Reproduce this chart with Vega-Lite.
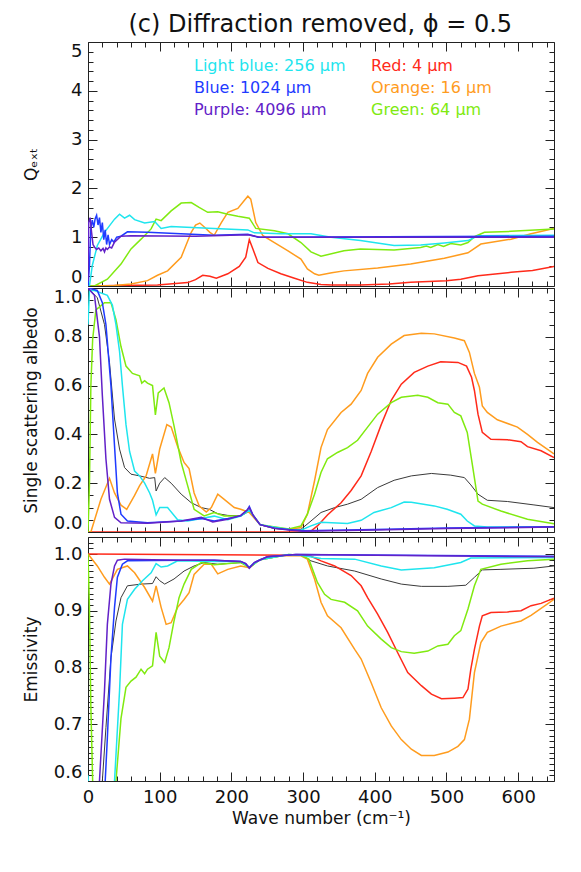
{
 "$schema": "https://vega.github.io/schema/vega-lite/v6.json",
 "background": "white",
 "padding": {"left": 22, "top": 12, "right": 20, "bottom": 10},
 "title": {"text": "(c) Diffraction removed, ϕ = 0.5", "fontSize": 24, "font": "DejaVu Sans", "fontWeight": "normal", "color": "#111111", "anchor": "middle", "offset": 5, "dx": 32},
 "config": {
  "view": {"stroke": null},
  "axis": {"domainColor": "#222222", "tickColor": "#222222", "domainWidth": 1, "tickWidth": 1, "labelFont": "DejaVu Sans", "labelFontSize": 18, "labelColor": "#111111", "titleFont": "DejaVu Sans", "titleFontSize": 17, "titleFontWeight": "normal", "titleColor": "#111111", "grid": false, "labelOverlap": false}
 },
 "datasets": {
  "q": [
   {"s":"Red: 4 μm","x":0,"y":0},{"s":"Red: 4 μm","x":40,"y":0.01},{"s":"Red: 4 μm","x":97,"y":0.02},{"s":"Red: 4 μm","x":139,"y":0.07},{"s":"Red: 4 μm","x":150,"y":0.13},{"s":"Red: 4 μm","x":160,"y":0.22},{"s":"Red: 4 μm","x":170,"y":0.2},{"s":"Red: 4 μm","x":179,"y":0.16},{"s":"Red: 4 μm","x":195,"y":0.25},{"s":"Red: 4 μm","x":211,"y":0.4},{"s":"Red: 4 μm","x":220,"y":0.59},{"s":"Red: 4 μm","x":225,"y":0.95},{"s":"Red: 4 μm","x":230,"y":0.76},{"s":"Red: 4 μm","x":237,"y":0.48},{"s":"Red: 4 μm","x":251,"y":0.36},{"s":"Red: 4 μm","x":269,"y":0.25},{"s":"Red: 4 μm","x":288,"y":0.16},{"s":"Red: 4 μm","x":306,"y":0.075},{"s":"Red: 4 μm","x":325,"y":0.03},{"s":"Red: 4 μm","x":340,"y":0.02},{"s":"Red: 4 μm","x":380,"y":0.02},{"s":"Red: 4 μm","x":420,"y":0.04},{"s":"Red: 4 μm","x":450,"y":0.075},{"s":"Red: 4 μm","x":500,"y":0.11},{"s":"Red: 4 μm","x":520,"y":0.14},{"s":"Red: 4 μm","x":544,"y":0.21},{"s":"Red: 4 μm","x":590,"y":0.28},{"s":"Red: 4 μm","x":620,"y":0.32},{"s":"Red: 4 μm","x":650,"y":0.4},
   {"s":"Orange: 16 μm","x":0,"y":0},{"s":"Orange: 16 μm","x":37,"y":0.01},{"s":"Orange: 16 μm","x":60,"y":0.04},{"s":"Orange: 16 μm","x":83,"y":0.11},{"s":"Orange: 16 μm","x":97,"y":0.22},{"s":"Orange: 16 μm","x":111,"y":0.31},{"s":"Orange: 16 μm","x":130,"y":0.59},{"s":"Orange: 16 μm","x":144,"y":1.1},{"s":"Orange: 16 μm","x":150,"y":1.25},{"s":"Orange: 16 μm","x":156,"y":1.29},{"s":"Orange: 16 μm","x":163,"y":1.2},{"s":"Orange: 16 μm","x":170,"y":1.1},{"s":"Orange: 16 μm","x":176,"y":1.04},{"s":"Orange: 16 μm","x":186,"y":1.3},{"s":"Orange: 16 μm","x":195,"y":1.51},{"s":"Orange: 16 μm","x":209,"y":1.59},{"s":"Orange: 16 μm","x":218,"y":1.75},{"s":"Orange: 16 μm","x":223,"y":1.84},{"s":"Orange: 16 μm","x":227,"y":1.78},{"s":"Orange: 16 μm","x":234,"y":1.3},{"s":"Orange: 16 μm","x":244,"y":1.03},{"s":"Orange: 16 μm","x":260,"y":0.89},{"s":"Orange: 16 μm","x":279,"y":0.72},{"s":"Orange: 16 μm","x":297,"y":0.55},{"s":"Orange: 16 μm","x":306,"y":0.35},{"s":"Orange: 16 μm","x":316,"y":0.25},{"s":"Orange: 16 μm","x":322,"y":0.22},{"s":"Orange: 16 μm","x":340,"y":0.27},{"s":"Orange: 16 μm","x":357,"y":0.31},{"s":"Orange: 16 μm","x":404,"y":0.37},{"s":"Orange: 16 μm","x":450,"y":0.45},{"s":"Orange: 16 μm","x":497,"y":0.57},{"s":"Orange: 16 μm","x":530,"y":0.68},{"s":"Orange: 16 μm","x":548,"y":0.86},{"s":"Orange: 16 μm","x":590,"y":0.96},{"s":"Orange: 16 μm","x":618,"y":1.07},{"s":"Orange: 16 μm","x":650,"y":1.18},
   {"s":"Green: 64 μm","x":0,"y":0},{"s":"Green: 64 μm","x":9,"y":0.0},{"s":"Green: 64 μm","x":27,"y":0.14},{"s":"Green: 64 μm","x":46,"y":0.45},{"s":"Green: 64 μm","x":60,"y":0.76},{"s":"Green: 64 μm","x":74,"y":0.96},{"s":"Green: 64 μm","x":88,"y":1.17},{"s":"Green: 64 μm","x":95,"y":1.37},{"s":"Green: 64 μm","x":102,"y":1.34},{"s":"Green: 64 μm","x":116,"y":1.54},{"s":"Green: 64 μm","x":130,"y":1.7},{"s":"Green: 64 μm","x":144,"y":1.71},{"s":"Green: 64 μm","x":155,"y":1.61},{"s":"Green: 64 μm","x":167,"y":1.51},{"s":"Green: 64 μm","x":181,"y":1.52},{"s":"Green: 64 μm","x":195,"y":1.47},{"s":"Green: 64 μm","x":209,"y":1.43},{"s":"Green: 64 μm","x":225,"y":1.39},{"s":"Green: 64 μm","x":234,"y":1.18},{"s":"Green: 64 μm","x":260,"y":1.13},{"s":"Green: 64 μm","x":279,"y":1.07},{"s":"Green: 64 μm","x":297,"y":0.89},{"s":"Green: 64 μm","x":311,"y":0.7},{"s":"Green: 64 μm","x":325,"y":0.61},{"s":"Green: 64 μm","x":357,"y":0.72},{"s":"Green: 64 μm","x":380,"y":0.76},{"s":"Green: 64 μm","x":427,"y":0.74},{"s":"Green: 64 μm","x":464,"y":0.79},{"s":"Green: 64 μm","x":472,"y":0.82},{"s":"Green: 64 μm","x":478,"y":0.79},{"s":"Green: 64 μm","x":488,"y":0.85},{"s":"Green: 64 μm","x":496,"y":0.81},{"s":"Green: 64 μm","x":506,"y":0.87},{"s":"Green: 64 μm","x":520,"y":0.84},{"s":"Green: 64 μm","x":530,"y":0.89},{"s":"Green: 64 μm","x":539,"y":1.01},{"s":"Green: 64 μm","x":553,"y":1.1},{"s":"Green: 64 μm","x":590,"y":1.12},{"s":"Green: 64 μm","x":650,"y":1.17},
   {"s":"Light blue: 256 μm","x":0,"y":0},{"s":"Light blue: 256 μm","x":2,"y":0.0},{"s":"Light blue: 256 μm","x":6,"y":0.42},{"s":"Light blue: 256 μm","x":13,"y":0.83},{"s":"Light blue: 256 μm","x":23,"y":1.1},{"s":"Light blue: 256 μm","x":37,"y":1.37},{"s":"Light blue: 256 μm","x":44,"y":1.47},{"s":"Light blue: 256 μm","x":51,"y":1.39},{"s":"Light blue: 256 μm","x":58,"y":1.45},{"s":"Light blue: 256 μm","x":65,"y":1.36},{"s":"Light blue: 256 μm","x":79,"y":1.29},{"s":"Light blue: 256 μm","x":93,"y":1.32},{"s":"Light blue: 256 μm","x":102,"y":1.18},{"s":"Light blue: 256 μm","x":116,"y":1.22},{"s":"Light blue: 256 μm","x":130,"y":1.21},{"s":"Light blue: 256 μm","x":176,"y":1.18},{"s":"Light blue: 256 μm","x":223,"y":1.15},{"s":"Light blue: 256 μm","x":232,"y":1.09},{"s":"Light blue: 256 μm","x":269,"y":1.07},{"s":"Light blue: 256 μm","x":311,"y":1.07},{"s":"Light blue: 256 μm","x":339,"y":1.0},{"s":"Light blue: 256 μm","x":380,"y":0.93},{"s":"Light blue: 256 μm","x":427,"y":0.83},{"s":"Light blue: 256 μm","x":464,"y":0.84},{"s":"Light blue: 256 μm","x":497,"y":0.88},{"s":"Light blue: 256 μm","x":530,"y":0.93},{"s":"Light blue: 256 μm","x":544,"y":1.03},{"s":"Light blue: 256 μm","x":650,"y":1.04},
   {"s":"Blue: 1024 μm","x":0,"y":0},{"s":"Blue: 1024 μm","x":2,"y":0.4},{"s":"Blue: 1024 μm","x":4,"y":1.2},{"s":"Blue: 1024 μm","x":6,"y":1.35},{"s":"Blue: 1024 μm","x":8,"y":1.2},{"s":"Blue: 1024 μm","x":10,"y":1.38},{"s":"Blue: 1024 μm","x":12,"y":1.45},{"s":"Blue: 1024 μm","x":14,"y":1.25},{"s":"Blue: 1024 μm","x":16,"y":1.4},{"s":"Blue: 1024 μm","x":18,"y":1.1},{"s":"Blue: 1024 μm","x":20,"y":1.3},{"s":"Blue: 1024 μm","x":22,"y":0.95},{"s":"Blue: 1024 μm","x":24,"y":1.15},{"s":"Blue: 1024 μm","x":26,"y":0.85},{"s":"Blue: 1024 μm","x":28,"y":1.05},{"s":"Blue: 1024 μm","x":30,"y":0.85},{"s":"Blue: 1024 μm","x":33,"y":0.95},{"s":"Blue: 1024 μm","x":36,"y":0.9},{"s":"Blue: 1024 μm","x":40,"y":1.0},{"s":"Blue: 1024 μm","x":46,"y":1.02},{"s":"Blue: 1024 μm","x":55,"y":1.11},{"s":"Blue: 1024 μm","x":83,"y":1.1},{"s":"Blue: 1024 μm","x":176,"y":1.04},{"s":"Blue: 1024 μm","x":223,"y":1.06},{"s":"Blue: 1024 μm","x":237,"y":1.0},{"s":"Blue: 1024 μm","x":650,"y":1.02},
   {"s":"Purple: 4096 μm","x":0,"y":0.1},{"s":"Purple: 4096 μm","x":1,"y":1.3},{"s":"Purple: 4096 μm","x":3,"y":1.4},{"s":"Purple: 4096 μm","x":5,"y":1.1},{"s":"Purple: 4096 μm","x":7,"y":0.85},{"s":"Purple: 4096 μm","x":9,"y":0.8},{"s":"Purple: 4096 μm","x":12,"y":0.75},{"s":"Purple: 4096 μm","x":15,"y":0.78},{"s":"Purple: 4096 μm","x":18,"y":0.72},{"s":"Purple: 4096 μm","x":21,"y":0.77},{"s":"Purple: 4096 μm","x":23,"y":0.7},{"s":"Purple: 4096 μm","x":25,"y":0.78},{"s":"Purple: 4096 μm","x":27,"y":0.75},{"s":"Purple: 4096 μm","x":30,"y":0.8},{"s":"Purple: 4096 μm","x":33,"y":0.78},{"s":"Purple: 4096 μm","x":37,"y":0.9},{"s":"Purple: 4096 μm","x":46,"y":1.02},{"s":"Purple: 4096 μm","x":60,"y":1.03},{"s":"Purple: 4096 μm","x":150,"y":1.02},{"s":"Purple: 4096 μm","x":223,"y":1.05},{"s":"Purple: 4096 μm","x":240,"y":1.0},{"s":"Purple: 4096 μm","x":650,"y":1.0}
  ],
  "alb": [
   {"s":"Red: 4 μm","x":0,"y":0},{"s":"Red: 4 μm","x":300,"y":0},{"s":"Red: 4 μm","x":311,"y":0.004},{"s":"Red: 4 μm","x":320,"y":0.025},{"s":"Red: 4 μm","x":334,"y":0.07},{"s":"Red: 4 μm","x":353,"y":0.12},{"s":"Red: 4 μm","x":367,"y":0.17},{"s":"Red: 4 μm","x":381,"y":0.23},{"s":"Red: 4 μm","x":395,"y":0.33},{"s":"Red: 4 μm","x":409,"y":0.44},{"s":"Red: 4 μm","x":423,"y":0.54},{"s":"Red: 4 μm","x":437,"y":0.606},{"s":"Red: 4 μm","x":455,"y":0.654},{"s":"Red: 4 μm","x":474,"y":0.68},{"s":"Red: 4 μm","x":492,"y":0.698},{"s":"Red: 4 μm","x":516,"y":0.695},{"s":"Red: 4 μm","x":528,"y":0.68},{"s":"Red: 4 μm","x":535,"y":0.634},{"s":"Red: 4 μm","x":539,"y":0.58},{"s":"Red: 4 μm","x":544,"y":0.483},{"s":"Red: 4 μm","x":550,"y":0.408},{"s":"Red: 4 μm","x":562,"y":0.38},{"s":"Red: 4 μm","x":585,"y":0.378},{"s":"Red: 4 μm","x":604,"y":0.37},{"s":"Red: 4 μm","x":613,"y":0.35},{"s":"Red: 4 μm","x":632,"y":0.333},{"s":"Red: 4 μm","x":650,"y":0.305},
   {"s":"Orange: 16 μm","x":0,"y":0},{"s":"Orange: 16 μm","x":4,"y":0},{"s":"Orange: 16 μm","x":18,"y":0.134},{"s":"Orange: 16 μm","x":30,"y":0.22},{"s":"Orange: 16 μm","x":37,"y":0.16},{"s":"Orange: 16 μm","x":46,"y":0.11},{"s":"Orange: 16 μm","x":54,"y":0.093},{"s":"Orange: 16 μm","x":65,"y":0.15},{"s":"Orange: 16 μm","x":72,"y":0.19},{"s":"Orange: 16 μm","x":81,"y":0.23},{"s":"Orange: 16 μm","x":90,"y":0.32},{"s":"Orange: 16 μm","x":94,"y":0.24},{"s":"Orange: 16 μm","x":100,"y":0.34},{"s":"Orange: 16 μm","x":110,"y":0.44},{"s":"Orange: 16 μm","x":116,"y":0.43},{"s":"Orange: 16 μm","x":125,"y":0.35},{"s":"Orange: 16 μm","x":134,"y":0.285},{"s":"Orange: 16 μm","x":141,"y":0.26},{"s":"Orange: 16 μm","x":148,"y":0.16},{"s":"Orange: 16 μm","x":155,"y":0.107},{"s":"Orange: 16 μm","x":165,"y":0.082},{"s":"Orange: 16 μm","x":172,"y":0.1},{"s":"Orange: 16 μm","x":181,"y":0.155},{"s":"Orange: 16 μm","x":190,"y":0.134},{"s":"Orange: 16 μm","x":204,"y":0.1},{"s":"Orange: 16 μm","x":213,"y":0.093},{"s":"Orange: 16 μm","x":225,"y":0.08},{"s":"Orange: 16 μm","x":240,"y":0.03},{"s":"Orange: 16 μm","x":260,"y":0.015},{"s":"Orange: 16 μm","x":280,"y":0.01},{"s":"Orange: 16 μm","x":297,"y":0.018},{"s":"Orange: 16 μm","x":306,"y":0.073},{"s":"Orange: 16 μm","x":316,"y":0.21},{"s":"Orange: 16 μm","x":325,"y":0.346},{"s":"Orange: 16 μm","x":334,"y":0.42},{"s":"Orange: 16 μm","x":353,"y":0.49},{"s":"Orange: 16 μm","x":367,"y":0.524},{"s":"Orange: 16 μm","x":381,"y":0.58},{"s":"Orange: 16 μm","x":390,"y":0.65},{"s":"Orange: 16 μm","x":404,"y":0.716},{"s":"Orange: 16 μm","x":423,"y":0.77},{"s":"Orange: 16 μm","x":441,"y":0.805},{"s":"Orange: 16 μm","x":465,"y":0.815},{"s":"Orange: 16 μm","x":483,"y":0.812},{"s":"Orange: 16 μm","x":511,"y":0.795},{"s":"Orange: 16 μm","x":525,"y":0.784},{"s":"Orange: 16 μm","x":532,"y":0.736},{"s":"Orange: 16 μm","x":539,"y":0.65},{"s":"Orange: 16 μm","x":546,"y":0.593},{"s":"Orange: 16 μm","x":550,"y":0.517},{"s":"Orange: 16 μm","x":557,"y":0.49},{"s":"Orange: 16 μm","x":571,"y":0.46},{"s":"Orange: 16 μm","x":599,"y":0.43},{"s":"Orange: 16 μm","x":613,"y":0.4},{"s":"Orange: 16 μm","x":627,"y":0.367},{"s":"Orange: 16 μm","x":650,"y":0.32},
   {"s":"Green: 64 μm","x":0,"y":0},{"s":"Green: 64 μm","x":2,"y":0.19},{"s":"Green: 64 μm","x":4,"y":0.6},{"s":"Green: 64 μm","x":6.5,"y":0.79},{"s":"Green: 64 μm","x":11,"y":0.91},{"s":"Green: 64 μm","x":23,"y":0.94},{"s":"Green: 64 μm","x":32,"y":0.94},{"s":"Green: 64 μm","x":39,"y":0.87},{"s":"Green: 64 μm","x":46,"y":0.76},{"s":"Green: 64 μm","x":53,"y":0.68},{"s":"Green: 64 μm","x":62,"y":0.65},{"s":"Green: 64 μm","x":72,"y":0.64},{"s":"Green: 64 μm","x":75,"y":0.61},{"s":"Green: 64 μm","x":79,"y":0.62},{"s":"Green: 64 μm","x":83,"y":0.61},{"s":"Green: 64 μm","x":90,"y":0.6},{"s":"Green: 64 μm","x":94,"y":0.48},{"s":"Green: 64 μm","x":98,"y":0.57},{"s":"Green: 64 μm","x":106,"y":0.59},{"s":"Green: 64 μm","x":113,"y":0.53},{"s":"Green: 64 μm","x":120,"y":0.435},{"s":"Green: 64 μm","x":130,"y":0.285},{"s":"Green: 64 μm","x":139,"y":0.19},{"s":"Green: 64 μm","x":148,"y":0.093},{"s":"Green: 64 μm","x":162,"y":0.066},{"s":"Green: 64 μm","x":176,"y":0.08},{"s":"Green: 64 μm","x":190,"y":0.066},{"s":"Green: 64 μm","x":213,"y":0.066},{"s":"Green: 64 μm","x":225,"y":0.09},{"s":"Green: 64 μm","x":240,"y":0.03},{"s":"Green: 64 μm","x":280,"y":0.012},{"s":"Green: 64 μm","x":297,"y":0.025},{"s":"Green: 64 μm","x":306,"y":0.073},{"s":"Green: 64 μm","x":316,"y":0.155},{"s":"Green: 64 μm","x":325,"y":0.244},{"s":"Green: 64 μm","x":334,"y":0.3},{"s":"Green: 64 μm","x":348,"y":0.326},{"s":"Green: 64 μm","x":362,"y":0.346},{"s":"Green: 64 μm","x":376,"y":0.376},{"s":"Green: 64 μm","x":390,"y":0.43},{"s":"Green: 64 μm","x":404,"y":0.483},{"s":"Green: 64 μm","x":423,"y":0.53},{"s":"Green: 64 μm","x":437,"y":0.552},{"s":"Green: 64 μm","x":460,"y":0.56},{"s":"Green: 64 μm","x":474,"y":0.552},{"s":"Green: 64 μm","x":488,"y":0.53},{"s":"Green: 64 μm","x":502,"y":0.524},{"s":"Green: 64 μm","x":511,"y":0.49},{"s":"Green: 64 μm","x":520,"y":0.476},{"s":"Green: 64 μm","x":529,"y":0.408},{"s":"Green: 64 μm","x":536,"y":0.278},{"s":"Green: 64 μm","x":544,"y":0.127},{"s":"Green: 64 μm","x":550,"y":0.114},{"s":"Green: 64 μm","x":576,"y":0.086},{"s":"Green: 64 μm","x":613,"y":0.052},{"s":"Green: 64 μm","x":650,"y":0.034},
   {"s":"Light blue: 256 μm","x":0,"y":0.85},{"s":"Light blue: 256 μm","x":2,"y":0.99},{"s":"Light blue: 256 μm","x":9,"y":0.99},{"s":"Light blue: 256 μm","x":27,"y":0.97},{"s":"Light blue: 256 μm","x":34,"y":0.93},{"s":"Light blue: 256 μm","x":39,"y":0.85},{"s":"Light blue: 256 μm","x":44,"y":0.74},{"s":"Light blue: 256 μm","x":48,"y":0.6},{"s":"Light blue: 256 μm","x":53,"y":0.44},{"s":"Light blue: 256 μm","x":58,"y":0.33},{"s":"Light blue: 256 μm","x":65,"y":0.25},{"s":"Light blue: 256 μm","x":72,"y":0.23},{"s":"Light blue: 256 μm","x":79,"y":0.2},{"s":"Light blue: 256 μm","x":86,"y":0.16},{"s":"Light blue: 256 μm","x":90,"y":0.13},{"s":"Light blue: 256 μm","x":95,"y":0.07},{"s":"Light blue: 256 μm","x":100,"y":0.1},{"s":"Light blue: 256 μm","x":111,"y":0.1},{"s":"Light blue: 256 μm","x":125,"y":0.05},{"s":"Light blue: 256 μm","x":139,"y":0.045},{"s":"Light blue: 256 μm","x":176,"y":0.065},{"s":"Light blue: 256 μm","x":195,"y":0.05},{"s":"Light blue: 256 μm","x":213,"y":0.065},{"s":"Light blue: 256 μm","x":225,"y":0.09},{"s":"Light blue: 256 μm","x":240,"y":0.03},{"s":"Light blue: 256 μm","x":260,"y":0.02},{"s":"Light blue: 256 μm","x":280,"y":0.01},{"s":"Light blue: 256 μm","x":297,"y":0.007},{"s":"Light blue: 256 μm","x":311,"y":0.025},{"s":"Light blue: 256 μm","x":325,"y":0.04},{"s":"Light blue: 256 μm","x":362,"y":0.035},{"s":"Light blue: 256 μm","x":381,"y":0.048},{"s":"Light blue: 256 μm","x":399,"y":0.08},{"s":"Light blue: 256 μm","x":423,"y":0.1},{"s":"Light blue: 256 μm","x":441,"y":0.123},{"s":"Light blue: 256 μm","x":451,"y":0.122},{"s":"Light blue: 256 μm","x":483,"y":0.107},{"s":"Light blue: 256 μm","x":501,"y":0.093},{"s":"Light blue: 256 μm","x":520,"y":0.073},{"s":"Light blue: 256 μm","x":529,"y":0.045},{"s":"Light blue: 256 μm","x":539,"y":0.025},{"s":"Light blue: 256 μm","x":557,"y":0.02},{"s":"Light blue: 256 μm","x":650,"y":0.02},
   {"s":"Blue: 1024 μm","x":0,"y":1.0},{"s":"Blue: 1024 μm","x":13,"y":0.99},{"s":"Blue: 1024 μm","x":20,"y":0.94},{"s":"Blue: 1024 μm","x":25,"y":0.85},{"s":"Blue: 1024 μm","x":32,"y":0.6},{"s":"Blue: 1024 μm","x":37,"y":0.353},{"s":"Blue: 1024 μm","x":41,"y":0.16},{"s":"Blue: 1024 μm","x":46,"y":0.073},{"s":"Blue: 1024 μm","x":55,"y":0.045},{"s":"Blue: 1024 μm","x":83,"y":0.038},{"s":"Blue: 1024 μm","x":130,"y":0.045},{"s":"Blue: 1024 μm","x":158,"y":0.055},{"s":"Blue: 1024 μm","x":176,"y":0.045},{"s":"Blue: 1024 μm","x":195,"y":0.055},{"s":"Blue: 1024 μm","x":213,"y":0.066},{"s":"Blue: 1024 μm","x":222,"y":0.09},{"s":"Blue: 1024 μm","x":225,"y":0.105},{"s":"Blue: 1024 μm","x":230,"y":0.07},{"s":"Blue: 1024 μm","x":240,"y":0.03},{"s":"Blue: 1024 μm","x":260,"y":0.015},{"s":"Blue: 1024 μm","x":280,"y":0.01},{"s":"Blue: 1024 μm","x":300,"y":0.005},{"s":"Blue: 1024 μm","x":400,"y":0.01},{"s":"Blue: 1024 μm","x":500,"y":0.016},{"s":"Blue: 1024 μm","x":650,"y":0.022},
   {"s":"Purple: 4096 μm","x":0,"y":1.0},{"s":"Purple: 4096 μm","x":9,"y":0.97},{"s":"Purple: 4096 μm","x":16,"y":0.8},{"s":"Purple: 4096 μm","x":20,"y":0.56},{"s":"Purple: 4096 μm","x":25,"y":0.3},{"s":"Purple: 4096 μm","x":30,"y":0.134},{"s":"Purple: 4096 μm","x":37,"y":0.06},{"s":"Purple: 4096 μm","x":46,"y":0.038},{"s":"Purple: 4096 μm","x":83,"y":0.036},{"s":"Purple: 4096 μm","x":130,"y":0.045},{"s":"Purple: 4096 μm","x":158,"y":0.06},{"s":"Purple: 4096 μm","x":174,"y":0.041},{"s":"Purple: 4096 μm","x":195,"y":0.052},{"s":"Purple: 4096 μm","x":213,"y":0.068},{"s":"Purple: 4096 μm","x":222,"y":0.09},{"s":"Purple: 4096 μm","x":225,"y":0.1},{"s":"Purple: 4096 μm","x":230,"y":0.07},{"s":"Purple: 4096 μm","x":240,"y":0.03},{"s":"Purple: 4096 μm","x":260,"y":0.015},{"s":"Purple: 4096 μm","x":280,"y":0.008},{"s":"Purple: 4096 μm","x":300,"y":0.003},{"s":"Purple: 4096 μm","x":400,"y":0.008},{"s":"Purple: 4096 μm","x":500,"y":0.014},{"s":"Purple: 4096 μm","x":650,"y":0.02}
  ],
  "albGray": [
   {"x":0,"y":1.0},{"x":13,"y":0.96},{"x":23,"y":0.85},{"x":30,"y":0.695},{"x":37,"y":0.463},{"x":44,"y":0.34},{"x":51,"y":0.264},{"x":60,"y":0.237},{"x":72,"y":0.23},{"x":86,"y":0.22},{"x":93,"y":0.223},{"x":95,"y":0.168},{"x":100,"y":0.2},{"x":107,"y":0.223},{"x":116,"y":0.2},{"x":130,"y":0.155},{"x":144,"y":0.12},{"x":158,"y":0.1},{"x":169,"y":0.093},{"x":181,"y":0.075},{"x":195,"y":0.068},{"x":213,"y":0.066},{"x":225,"y":0.085},{"x":240,"y":0.03},{"x":260,"y":0.015},{"x":280,"y":0.01},{"x":297,"y":0.011},{"x":311,"y":0.045},{"x":325,"y":0.08},{"x":344,"y":0.1},{"x":362,"y":0.114},{"x":381,"y":0.134},{"x":404,"y":0.182},{"x":427,"y":0.212},{"x":451,"y":0.23},{"x":479,"y":0.24},{"x":506,"y":0.233},{"x":525,"y":0.223},{"x":534,"y":0.193},{"x":544,"y":0.155},{"x":557,"y":0.13},{"x":585,"y":0.125},{"x":622,"y":0.111},{"x":650,"y":0.1}
  ],
  "emi": [
   {"s":"Red: 4 μm","x":0,"y":1.0},{"s":"Red: 4 μm","x":297,"y":0.998},{"s":"Red: 4 μm","x":311,"y":0.996},{"s":"Red: 4 μm","x":325,"y":0.988},{"s":"Red: 4 μm","x":344,"y":0.979},{"s":"Red: 4 μm","x":367,"y":0.962},{"s":"Red: 4 μm","x":381,"y":0.944},{"s":"Red: 4 μm","x":390,"y":0.923},{"s":"Red: 4 μm","x":404,"y":0.894},{"s":"Red: 4 μm","x":418,"y":0.862},{"s":"Red: 4 μm","x":432,"y":0.826},{"s":"Red: 4 μm","x":446,"y":0.791},{"s":"Red: 4 μm","x":465,"y":0.768},{"s":"Red: 4 μm","x":479,"y":0.753},{"s":"Red: 4 μm","x":493,"y":0.745},{"s":"Red: 4 μm","x":511,"y":0.746},{"s":"Red: 4 μm","x":523,"y":0.747},{"s":"Red: 4 μm","x":530,"y":0.762},{"s":"Red: 4 μm","x":534,"y":0.797},{"s":"Red: 4 μm","x":539,"y":0.832},{"s":"Red: 4 μm","x":546,"y":0.873},{"s":"Red: 4 μm","x":550,"y":0.891},{"s":"Red: 4 μm","x":562,"y":0.897},{"s":"Red: 4 μm","x":585,"y":0.898},{"s":"Red: 4 μm","x":604,"y":0.9},{"s":"Red: 4 μm","x":618,"y":0.909},{"s":"Red: 4 μm","x":632,"y":0.913},{"s":"Red: 4 μm","x":650,"y":0.922},
   {"s":"Orange: 16 μm","x":0,"y":1.0},{"s":"Orange: 16 μm","x":13,"y":0.979},{"s":"Orange: 16 μm","x":23,"y":0.959},{"s":"Orange: 16 μm","x":30,"y":0.947},{"s":"Orange: 16 μm","x":41,"y":0.973},{"s":"Orange: 16 μm","x":55,"y":0.979},{"s":"Orange: 16 μm","x":65,"y":0.967},{"s":"Orange: 16 μm","x":79,"y":0.941},{"s":"Orange: 16 μm","x":90,"y":0.917},{"s":"Orange: 16 μm","x":95,"y":0.944},{"s":"Orange: 16 μm","x":102,"y":0.906},{"s":"Orange: 16 μm","x":109,"y":0.876},{"s":"Orange: 16 μm","x":116,"y":0.879},{"s":"Orange: 16 μm","x":125,"y":0.906},{"s":"Orange: 16 μm","x":134,"y":0.92},{"s":"Orange: 16 μm","x":141,"y":0.932},{"s":"Orange: 16 μm","x":148,"y":0.964},{"s":"Orange: 16 μm","x":162,"y":0.982},{"s":"Orange: 16 μm","x":172,"y":0.982},{"s":"Orange: 16 μm","x":181,"y":0.965},{"s":"Orange: 16 μm","x":195,"y":0.973},{"s":"Orange: 16 μm","x":213,"y":0.979},{"s":"Orange: 16 μm","x":225,"y":0.976},{"s":"Orange: 16 μm","x":240,"y":0.99},{"s":"Orange: 16 μm","x":270,"y":0.997},{"s":"Orange: 16 μm","x":297,"y":0.997},{"s":"Orange: 16 μm","x":306,"y":0.991},{"s":"Orange: 16 μm","x":316,"y":0.956},{"s":"Orange: 16 μm","x":325,"y":0.915},{"s":"Orange: 16 μm","x":334,"y":0.891},{"s":"Orange: 16 μm","x":353,"y":0.87},{"s":"Orange: 16 μm","x":372,"y":0.832},{"s":"Orange: 16 μm","x":381,"y":0.815},{"s":"Orange: 16 μm","x":395,"y":0.773},{"s":"Orange: 16 μm","x":409,"y":0.729},{"s":"Orange: 16 μm","x":423,"y":0.697},{"s":"Orange: 16 μm","x":437,"y":0.673},{"s":"Orange: 16 μm","x":451,"y":0.656},{"s":"Orange: 16 μm","x":465,"y":0.645},{"s":"Orange: 16 μm","x":483,"y":0.645},{"s":"Orange: 16 μm","x":502,"y":0.651},{"s":"Orange: 16 μm","x":516,"y":0.661},{"s":"Orange: 16 μm","x":525,"y":0.673},{"s":"Orange: 16 μm","x":532,"y":0.709},{"s":"Orange: 16 μm","x":539,"y":0.791},{"s":"Orange: 16 μm","x":548,"y":0.844},{"s":"Orange: 16 μm","x":557,"y":0.862},{"s":"Orange: 16 μm","x":576,"y":0.873},{"s":"Orange: 16 μm","x":604,"y":0.882},{"s":"Orange: 16 μm","x":618,"y":0.892},{"s":"Orange: 16 μm","x":650,"y":0.92},
   {"s":"Green: 64 μm","x":0,"y":1.0},{"s":"Green: 64 μm","x":2,"y":0.906},{"s":"Green: 64 μm","x":4,"y":0.73},{"s":"Green: 64 μm","x":6.5,"y":0.6},{"s":"Green: 64 μm","x":10,"y":0.35},{"s":"Green: 64 μm","x":35,"y":0.35},{"s":"Green: 64 μm","x":39,"y":0.6},{"s":"Green: 64 μm","x":46,"y":0.71},{"s":"Green: 64 μm","x":53,"y":0.765},{"s":"Green: 64 μm","x":60,"y":0.776},{"s":"Green: 64 μm","x":67,"y":0.783},{"s":"Green: 64 μm","x":74,"y":0.797},{"s":"Green: 64 μm","x":79,"y":0.789},{"s":"Green: 64 μm","x":83,"y":0.797},{"s":"Green: 64 μm","x":90,"y":0.803},{"s":"Green: 64 μm","x":95,"y":0.862},{"s":"Green: 64 μm","x":100,"y":0.82},{"s":"Green: 64 μm","x":107,"y":0.809},{"s":"Green: 64 μm","x":113,"y":0.835},{"s":"Green: 64 μm","x":120,"y":0.882},{"s":"Green: 64 μm","x":127,"y":0.923},{"s":"Green: 64 μm","x":134,"y":0.947},{"s":"Green: 64 μm","x":144,"y":0.973},{"s":"Green: 64 μm","x":158,"y":0.985},{"s":"Green: 64 μm","x":176,"y":0.981},{"s":"Green: 64 μm","x":213,"y":0.985},{"s":"Green: 64 μm","x":225,"y":0.976},{"s":"Green: 64 μm","x":240,"y":0.99},{"s":"Green: 64 μm","x":280,"y":0.999},{"s":"Green: 64 μm","x":297,"y":0.998},{"s":"Green: 64 μm","x":308,"y":0.991},{"s":"Green: 64 μm","x":320,"y":0.95},{"s":"Green: 64 μm","x":330,"y":0.929},{"s":"Green: 64 μm","x":339,"y":0.92},{"s":"Green: 64 μm","x":358,"y":0.915},{"s":"Green: 64 μm","x":376,"y":0.9},{"s":"Green: 64 μm","x":390,"y":0.873},{"s":"Green: 64 μm","x":409,"y":0.85},{"s":"Green: 64 μm","x":423,"y":0.835},{"s":"Green: 64 μm","x":437,"y":0.828},{"s":"Green: 64 μm","x":455,"y":0.825},{"s":"Green: 64 μm","x":474,"y":0.829},{"s":"Green: 64 μm","x":488,"y":0.838},{"s":"Green: 64 μm","x":502,"y":0.841},{"s":"Green: 64 μm","x":511,"y":0.856},{"s":"Green: 64 μm","x":520,"y":0.865},{"s":"Green: 64 μm","x":530,"y":0.903},{"s":"Green: 64 μm","x":539,"y":0.944},{"s":"Green: 64 μm","x":548,"y":0.973},{"s":"Green: 64 μm","x":576,"y":0.982},{"s":"Green: 64 μm","x":613,"y":0.988},{"s":"Green: 64 μm","x":650,"y":0.991},
   {"s":"Light blue: 256 μm","x":0,"y":0.61},{"s":"Light blue: 256 μm","x":3,"y":0.55},{"s":"Light blue: 256 μm","x":30,"y":0.45},{"s":"Light blue: 256 μm","x":37,"y":0.6},{"s":"Light blue: 256 μm","x":44,"y":0.759},{"s":"Light blue: 256 μm","x":48,"y":0.876},{"s":"Light blue: 256 μm","x":55,"y":0.92},{"s":"Light blue: 256 μm","x":65,"y":0.938},{"s":"Light blue: 256 μm","x":76,"y":0.953},{"s":"Light blue: 256 μm","x":88,"y":0.967},{"s":"Light blue: 256 μm","x":95,"y":0.983},{"s":"Light blue: 256 μm","x":102,"y":0.977},{"s":"Light blue: 256 μm","x":111,"y":0.979},{"s":"Light blue: 256 μm","x":125,"y":0.988},{"s":"Light blue: 256 μm","x":176,"y":0.987},{"s":"Light blue: 256 μm","x":213,"y":0.987},{"s":"Light blue: 256 μm","x":225,"y":0.977},{"s":"Light blue: 256 μm","x":240,"y":0.99},{"s":"Light blue: 256 μm","x":280,"y":0.999},{"s":"Light blue: 256 μm","x":297,"y":0.998},{"s":"Light blue: 256 μm","x":325,"y":0.992},{"s":"Light blue: 256 μm","x":372,"y":0.991},{"s":"Light blue: 256 μm","x":409,"y":0.979},{"s":"Light blue: 256 μm","x":437,"y":0.972},{"s":"Light blue: 256 μm","x":483,"y":0.976},{"s":"Light blue: 256 μm","x":520,"y":0.985},{"s":"Light blue: 256 μm","x":534,"y":0.993},{"s":"Light blue: 256 μm","x":650,"y":0.994},
   {"s":"Blue: 1024 μm","x":0,"y":0.0},{"s":"Blue: 1024 μm","x":24,"y":0.6},{"s":"Blue: 1024 μm","x":27,"y":0.676},{"s":"Blue: 1024 μm","x":32,"y":0.817},{"s":"Blue: 1024 μm","x":37,"y":0.906},{"s":"Blue: 1024 μm","x":41,"y":0.959},{"s":"Blue: 1024 μm","x":48,"y":0.982},{"s":"Blue: 1024 μm","x":55,"y":0.988},{"s":"Blue: 1024 μm","x":130,"y":0.989},{"s":"Blue: 1024 μm","x":176,"y":0.989},{"s":"Blue: 1024 μm","x":213,"y":0.987},{"s":"Blue: 1024 μm","x":220,"y":0.983},{"s":"Blue: 1024 μm","x":225,"y":0.976},{"s":"Blue: 1024 μm","x":232,"y":0.985},{"s":"Blue: 1024 μm","x":250,"y":0.995},{"s":"Blue: 1024 μm","x":290,"y":0.999},{"s":"Blue: 1024 μm","x":650,"y":0.996},
   {"s":"Purple: 4096 μm","x":0,"y":0.0},{"s":"Purple: 4096 μm","x":16,"y":0.6},{"s":"Purple: 4096 μm","x":23,"y":0.759},{"s":"Purple: 4096 μm","x":27,"y":0.876},{"s":"Purple: 4096 μm","x":32,"y":0.947},{"s":"Purple: 4096 μm","x":37,"y":0.979},{"s":"Purple: 4096 μm","x":41,"y":0.989},{"s":"Purple: 4096 μm","x":51,"y":0.991},{"s":"Purple: 4096 μm","x":130,"y":0.989},{"s":"Purple: 4096 μm","x":176,"y":0.989},{"s":"Purple: 4096 μm","x":213,"y":0.987},{"s":"Purple: 4096 μm","x":220,"y":0.983},{"s":"Purple: 4096 μm","x":225,"y":0.975},{"s":"Purple: 4096 μm","x":232,"y":0.985},{"s":"Purple: 4096 μm","x":250,"y":0.995},{"s":"Purple: 4096 μm","x":290,"y":0.999},{"s":"Purple: 4096 μm","x":650,"y":0.995}
  ],
  "emiGray": [
   {"x":0,"y":0.0},{"x":20,"y":0.6},{"x":25,"y":0.694},{"x":32,"y":0.817},{"x":39,"y":0.882},{"x":46,"y":0.923},{"x":55,"y":0.944},{"x":74,"y":0.947},{"x":90,"y":0.948},{"x":95,"y":0.96},{"x":100,"y":0.953},{"x":107,"y":0.947},{"x":120,"y":0.956},{"x":134,"y":0.97},{"x":148,"y":0.979},{"x":162,"y":0.985},{"x":181,"y":0.982},{"x":213,"y":0.985},{"x":225,"y":0.977},{"x":240,"y":0.99},{"x":280,"y":0.999},{"x":297,"y":0.998},{"x":311,"y":0.988},{"x":334,"y":0.979},{"x":372,"y":0.97},{"x":409,"y":0.956},{"x":437,"y":0.947},{"x":465,"y":0.943},{"x":502,"y":0.943},{"x":527,"y":0.945},{"x":539,"y":0.959},{"x":550,"y":0.972},{"x":576,"y":0.973},{"x":622,"y":0.975},{"x":650,"y":0.979}
  ]
 },
 "spacing": 0,
 "vconcat": [
  {
   "width": 466, "height": 244,
   "layer": [
    {
     "data": {"name": "q"},
     "mark": {"type": "line", "opacity": 0},
     "encoding": {
      "x": {"field": "x", "type": "quantitative", "scale": {"domain": [0, 650], "nice": false, "zero": false},
            "axis": {"orient": "top", "values": [0,20,40,60,80,100,120,140,160,180,200,220,240,260,280,300,320,340,360,380,400,420,440,460,480,500,520,540,560,580,600,620,640], "tickSize": {"condition": {"test": "datum.value % 100 === 0", "value": -9}, "value": -5}, "labels": false, "title": null, "minExtent": 0, "maxExtent": 0}},
      "y": {"field": "y", "type": "quantitative", "scale": {"domain": [0, 5], "nice": false, "zero": false},
            "axis": {"orient": "right", "values": [0,0.2,0.4,0.6,0.8,1,1.2,1.4,1.6,1.8,2,2.2,2.4,2.6,2.8,3,3.2,3.4,3.6,3.8,4,4.2,4.4,4.6,4.8,5], "tickSize": {"condition": {"test": "round(datum.value*10) % 10 === 0", "value": -9}, "value": -5}, "labels": false, "title": null, "minExtent": 0, "maxExtent": 0}},
      "detail": {"field": "s"}
     }
    },
    {
     "data": {"name": "q"},
     "mark": {"type": "line", "strokeWidth": 1.5, "clip": true},
     "encoding": {
      "x": {"field": "x", "type": "quantitative",
            "axis": {"orient": "bottom", "values": [0,20,40,60,80,100,120,140,160,180,200,220,240,260,280,300,320,340,360,380,400,420,440,460,480,500,520,540,560,580,600,620,640], "tickSize": {"condition": {"test": "datum.value % 100 === 0", "value": -9}, "value": -5}, "labels": false, "title": null, "minExtent": 0, "maxExtent": 0}},
      "y": {"field": "y", "type": "quantitative",
            "axis": {"orient": "left", "values": [0,0.2,0.4,0.6,0.8,1,1.2,1.4,1.6,1.8,2,2.2,2.4,2.6,2.8,3,3.2,3.4,3.6,3.8,4,4.2,4.4,4.6,4.8,5], "tickSize": {"condition": {"test": "round(datum.value*10) % 10 === 0", "value": -9}, "value": -5}, "labelExpr": "round(datum.value*10) % 10 === 0 ? format(datum.value, 'd') : ''", "labelFlush": true, "labelPadding": 15, "title": "Qₑₓₜ", "minExtent": 40, "maxExtent": 40, "titlePadding": 8}},
      "color": {"field": "s", "type": "nominal",
                "scale": {"domain": ["Light blue: 256 μm", "Blue: 1024 μm", "Purple: 4096 μm", "Red: 4 μm", "Orange: 16 μm", "Green: 64 μm"], "range": ["#1FE5EE", "#1F3BFF", "#6221C8", "#FF2A1A", "#FF9C1E", "#80EA10"]},
                "legend": {"orient": "none", "legendX": 90, "legendY": 16, "columns": 2, "title": null, "symbolSize": 0, "symbolOpacity": 0, "symbolStrokeWidth": 0, "labelOffset": 0, "labelFont": "DejaVu Sans", "labelFontSize": 16, "labelLimit": 400, "rowPadding": 6, "columnPadding": 9, "encode": {"labels": {"update": {"fill": {"scale": "color", "field": "value"}}}}}}
     }
    }
   ],
   "resolve": {"axis": {"x": "independent", "y": "independent"}}
  },
  {
   "width": 466, "height": 244,
   "layer": [
    {
     "data": {"name": "albGray"},
     "mark": {"type": "line", "strokeWidth": 1, "color": "#3A3A3A", "clip": true},
     "encoding": {
      "x": {"field": "x", "type": "quantitative", "scale": {"domain": [0, 650], "nice": false, "zero": false},
            "axis": {"orient": "top", "values": [0,20,40,60,80,100,120,140,160,180,200,220,240,260,280,300,320,340,360,380,400,420,440,460,480,500,520,540,560,580,600,620,640], "tickSize": {"condition": {"test": "datum.value % 100 === 0", "value": -9}, "value": -5}, "labels": false, "title": null, "minExtent": 0, "maxExtent": 0}},
      "y": {"field": "y", "type": "quantitative", "scale": {"domain": [0, 1], "nice": false, "zero": false},
            "axis": {"orient": "right", "values": [0,0.05,0.1,0.15,0.2,0.25,0.3,0.35,0.4,0.45,0.5,0.55,0.6,0.65,0.7,0.75,0.8,0.85,0.9,0.95,1], "tickSize": {"condition": {"test": "round(datum.value*100) % 20 === 0", "value": -9}, "value": -5}, "labels": false, "title": null, "minExtent": 0, "maxExtent": 0}}
     }
    },
    {
     "data": {"name": "alb"},
     "mark": {"type": "line", "strokeWidth": 1.5, "clip": true},
     "encoding": {
      "x": {"field": "x", "type": "quantitative",
            "axis": {"orient": "bottom", "values": [0,20,40,60,80,100,120,140,160,180,200,220,240,260,280,300,320,340,360,380,400,420,440,460,480,500,520,540,560,580,600,620,640], "tickSize": {"condition": {"test": "datum.value % 100 === 0", "value": -9}, "value": -5}, "labels": false, "title": null, "minExtent": 0, "maxExtent": 0}},
      "y": {"field": "y", "type": "quantitative",
            "axis": {"orient": "left", "values": [0,0.05,0.1,0.15,0.2,0.25,0.3,0.35,0.4,0.45,0.5,0.55,0.6,0.65,0.7,0.75,0.8,0.85,0.9,0.95,1], "tickSize": {"condition": {"test": "round(datum.value*100) % 20 === 0", "value": -9}, "value": -5}, "labelExpr": "round(datum.value*100) % 20 === 0 ? datum.label : ''", "format": ".1f", "labelFlush": true, "labelPadding": 15, "title": "Single scattering albedo", "minExtent": 40, "maxExtent": 40, "titlePadding": 8}},
      "color": {"field": "s", "type": "nominal",
                "scale": {"domain": ["Light blue: 256 μm", "Blue: 1024 μm", "Purple: 4096 μm", "Red: 4 μm", "Orange: 16 μm", "Green: 64 μm"], "range": ["#1FE5EE", "#1F3BFF", "#6221C8", "#FF2A1A", "#FF9C1E", "#80EA10"]},
                "legend": {"orient": "none", "legendX": 90, "legendY": 16, "columns": 2, "title": null, "symbolSize": 0, "symbolOpacity": 0, "symbolStrokeWidth": 0, "labelOffset": 0, "labelFont": "DejaVu Sans", "labelFontSize": 16, "labelLimit": 400, "rowPadding": 6, "columnPadding": 9, "encode": {"labels": {"update": {"fill": {"scale": "color", "field": "value"}}}}}}
     }
    }
   ],
   "resolve": {"axis": {"x": "independent", "y": "independent"}}
  },
  {
   "width": 466, "height": 244,
   "layer": [
    {
     "data": {"name": "emiGray"},
     "mark": {"type": "line", "strokeWidth": 1, "color": "#3A3A3A", "clip": true},
     "encoding": {
      "x": {"field": "x", "type": "quantitative", "scale": {"domain": [0, 650], "nice": false, "zero": false},
            "axis": {"orient": "top", "values": [0,20,40,60,80,100,120,140,160,180,200,220,240,260,280,300,320,340,360,380,400,420,440,460,480,500,520,540,560,580,600,620,640], "tickSize": {"condition": {"test": "datum.value % 100 === 0", "value": -9}, "value": -5}, "labels": false, "title": null, "minExtent": 0, "maxExtent": 0}},
      "y": {"field": "y", "type": "quantitative", "scale": {"domain": [0.6, 1.03], "nice": false, "zero": false},
            "axis": {"orient": "right", "values": [0.6,0.61,0.62,0.63,0.64,0.65,0.66,0.67,0.68,0.69,0.7,0.71,0.72,0.73,0.74,0.75,0.76,0.77,0.78,0.79,0.8,0.81,0.82,0.83,0.84,0.85,0.86,0.87,0.88,0.89,0.9,0.91,0.92,0.93,0.94,0.95,0.96,0.97,0.98,0.99,1,1.01,1.02,1.03], "tickSize": {"condition": {"test": "round(datum.value*100) % 10 === 0", "value": -9}, "value": -5}, "labels": false, "title": null, "minExtent": 0, "maxExtent": 0}}
     }
    },
    {
     "data": {"name": "emi"},
     "mark": {"type": "line", "strokeWidth": 1.5, "clip": true},
     "encoding": {
      "x": {"field": "x", "type": "quantitative",
            "axis": {"orient": "bottom", "values": [0,20,40,60,80,100,120,140,160,180,200,220,240,260,280,300,320,340,360,380,400,420,440,460,480,500,520,540,560,580,600,620,640], "tickSize": {"condition": {"test": "datum.value % 100 === 0", "value": -9}, "value": -5}, "labelExpr": "datum.value % 100 === 0 ? datum.label : ''", "format": "d", "labelFlush": false, "labelPadding": 16, "title": "Wave number (cm⁻¹)", "titlePadding": 0}},
      "y": {"field": "y", "type": "quantitative",
            "axis": {"orient": "left", "values": [0.6,0.61,0.62,0.63,0.64,0.65,0.66,0.67,0.68,0.69,0.7,0.71,0.72,0.73,0.74,0.75,0.76,0.77,0.78,0.79,0.8,0.81,0.82,0.83,0.84,0.85,0.86,0.87,0.88,0.89,0.9,0.91,0.92,0.93,0.94,0.95,0.96,0.97,0.98,0.99,1,1.01,1.02,1.03], "tickSize": {"condition": {"test": "round(datum.value*100) % 10 === 0", "value": -9}, "value": -5}, "labelExpr": "round(datum.value*100) % 10 === 0 ? datum.label : ''", "format": ".1f", "labelFlush": true, "labelPadding": 15, "title": "Emissivity", "minExtent": 40, "maxExtent": 40, "titlePadding": 8}},
      "color": {"field": "s", "type": "nominal",
                "scale": {"domain": ["Light blue: 256 μm", "Blue: 1024 μm", "Purple: 4096 μm", "Red: 4 μm", "Orange: 16 μm", "Green: 64 μm"], "range": ["#1FE5EE", "#1F3BFF", "#6221C8", "#FF2A1A", "#FF9C1E", "#80EA10"]},
                "legend": {"orient": "none", "legendX": 90, "legendY": 16, "columns": 2, "title": null, "symbolSize": 0, "symbolOpacity": 0, "symbolStrokeWidth": 0, "labelOffset": 0, "labelFont": "DejaVu Sans", "labelFontSize": 16, "labelLimit": 400, "rowPadding": 6, "columnPadding": 9, "encode": {"labels": {"update": {"fill": {"scale": "color", "field": "value"}}}}}}
     }
    }
   ],
   "resolve": {"axis": {"x": "independent", "y": "independent"}}
  }
 ]
}
